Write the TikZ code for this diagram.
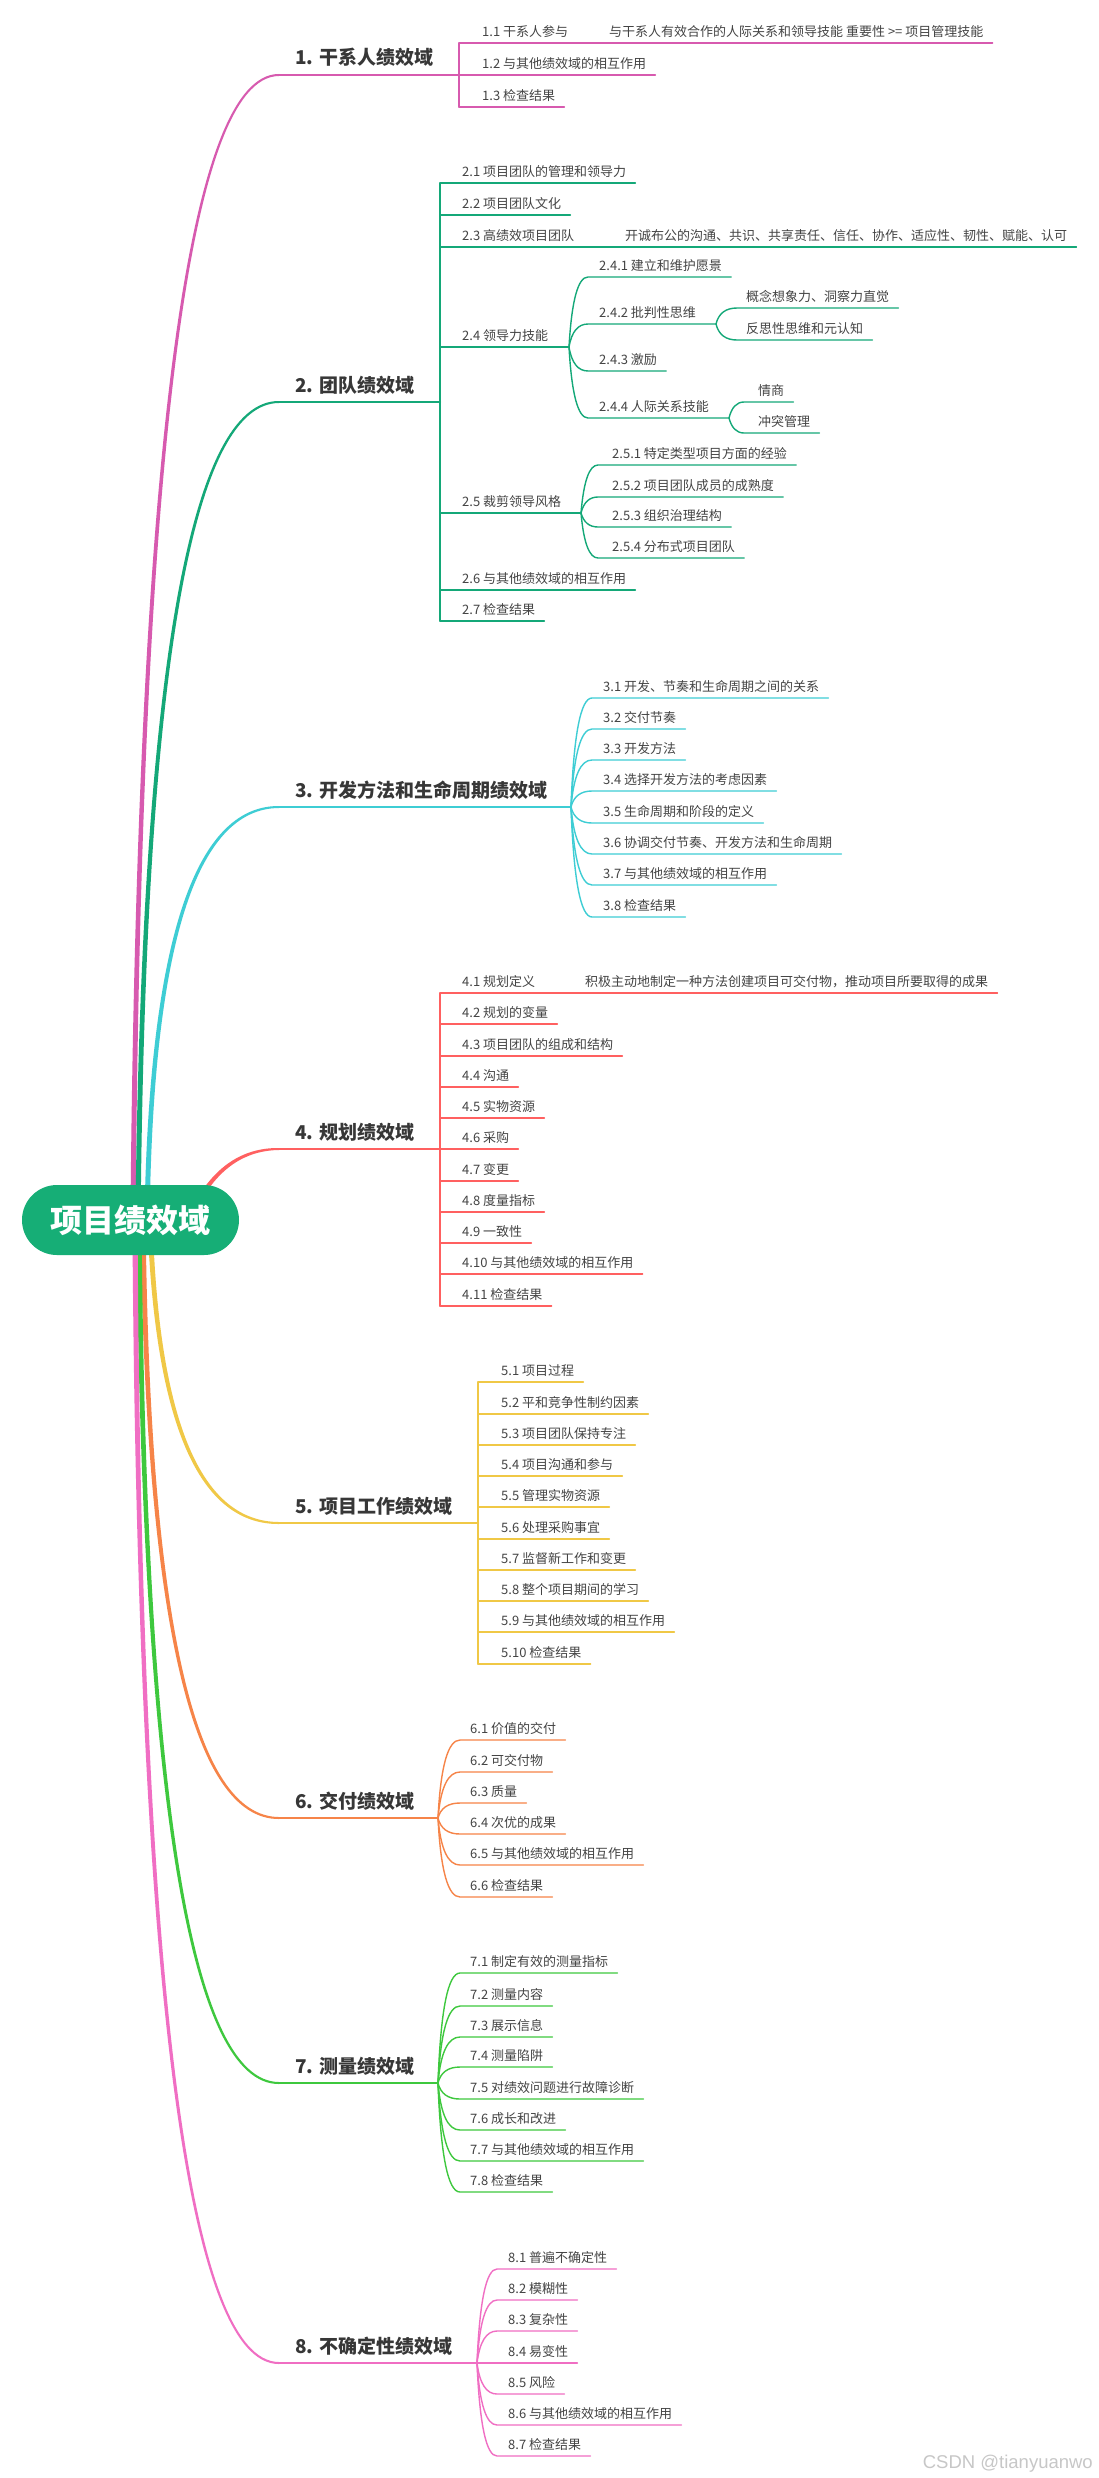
\documentclass[tikz,border=0pt]{standalone}
\usepackage{fontspec}
\setmainfont{Noto Sans CJK SC}
\newfontfamily\wmfont{Liberation Sans}
\usetikzlibrary{calc}
\definecolor{cA}{RGB}{215,90,175}
\definecolor{cB}{RGB}{20,168,120}
\definecolor{cC}{RGB}{62,205,212}
\definecolor{cD}{RGB}{255,96,96}
\definecolor{cE}{RGB}{240,200,70}
\definecolor{cF}{RGB}{246,132,72}
\definecolor{cG}{RGB}{62,200,62}
\definecolor{cH}{RGB}{240,110,195}
\definecolor{rootc}{RGB}{22,174,118}
\definecolor{txt}{RGB}{68,68,68}
\definecolor{ttxt}{RGB}{55,55,55}
\tikzset{
 leaf/.style={font=\fontsize{13}{15}\selectfont,text=txt,inner sep=0pt,anchor=base west},
 ttl/.style={font=\fontsize{19}{22}\selectfont\bfseries,text=ttxt,inner sep=0pt,anchor=base west},
 sl/.style={line width=1.4pt,line cap=round},
 tl/.style={line width=2pt,line cap=round},
 trunkline/.style={line width=1.8pt,line cap=round},
 rootbox/.style={fill=rootc,rounded corners=35pt,minimum width=217pt,minimum height=70pt,inner sep=0pt,text=white,font=\fontsize{32}{36}\selectfont\bfseries},
 wm/.style={font=\wmfont\fontsize{18.5}{20}\selectfont,text=black!22,inner sep=0pt,anchor=base east},
}
% tapered main branch: color, start, control, end, sign (-1 up / 1 down)
\newcommand\taper[5]{%
 \path (#2) ++(-2.6,0) coordinate (tpA)
       (#2) ++(2.6,0) coordinate (tpB)
       (#3) ++(-1.6,{1.6*(#5)}) coordinate (tpC)
       (#3) ++(1.6,{-1.6*(#5)}) coordinate (tpD)
       (#4) ++(0,{1.0*(#5)}) coordinate (tpE)
       (#4) ++(0,{-1.0*(#5)}) coordinate (tpF);
 \fill[#1] (tpA) .. controls ($(tpA)!2/3!(tpC)$) and ($(tpE)!2/3!(tpC)$) .. (tpE)
   -- (tpF) .. controls ($(tpF)!2/3!(tpD)$) and ($(tpB)!2/3!(tpD)$) .. (tpB) -- cycle;
}
% main title: name, color, text, line y, root start, ctrl x, sign, branch x
\newcommand\mtitle[8]{%
 \node[ttl] (#1) at (295,#4-10) {#3};
 \coordinate (#1-e) at (279,#4);
 \coordinate (#1-k) at (#6,#4);
 \coordinate (#1-p) at (#8,#4);
 \taper{#2}{#5}{#1-k}{#1-e}{#7}
 \draw[tl,#2] (#1-e) -- (#1-p);
}
% elbow child: name, color, trunk x, text x, y, text
\newcommand\ech[6]{%
 \node[leaf] (#1) at (#4,#5-6.5) {#6};
 \coordinate (#1-s) at (#3,#5);
 \draw[sl,#2] (#1-s) -- ($(#1-s -| #1.east)+(9,0)$);
}
% elbow parent: name, color, trunk x, text x, y, text, branch x
\newcommand\epar[7]{%
 \node[leaf] (#1) at (#4,#5-6.5) {#6};
 \coordinate (#1-s) at (#3,#5);
 \coordinate (#1-p) at (#7,#5);
 \draw[sl,#2] (#1-s) -- (#1-p);
}
% curved child: name, color, parent point, start x, text x, y, text
\newcommand\cch[7]{%
 \node[leaf] (#1) at (#5,#6-6.5) {#7};
 \coordinate (#1-s) at (#4,#6);
 \coordinate (#1-c) at ($(#3 |- #1-s)+(4,0)$);
 \draw[sl,#2] (#3) .. controls ($(#3)!2/3!(#1-c)$) and ($(#1-s)!2/3!(#1-c)$) .. (#1-s) -- ($(#1-s -| #1.east)+(9,0)$);
}
% curved parent: name, color, parent point, start x, text x, y, text, branch x
\newcommand\cpar[8]{%
 \node[leaf] (#1) at (#5,#6-6.5) {#7};
 \coordinate (#1-s) at (#4,#6);
 \coordinate (#1-p) at (#8,#6);
 \coordinate (#1-c) at ($(#3 |- #1-s)+(4,0)$);
 \draw[sl,#2] (#3) .. controls ($(#3)!2/3!(#1-c)$) and ($(#1-s)!2/3!(#1-c)$) .. (#1-s) -- (#1-p);
}
\begin{document}
\begin{tikzpicture}[x=1pt,y=-1pt]
\useasboundingbox (0,0) rectangle (1098,2478);
\fill[white] (0,0) rectangle (1098,2478);
\coordinate (r1) at (133,1220);
\coordinate (r2) at (138,1220);
\coordinate (r3) at (147,1220);
\coordinate (r4) at (196,1205);
\coordinate (r5) at (150,1220);
\coordinate (r6) at (143,1220);
\coordinate (r7) at (139,1220);
\coordinate (r8) at (135,1220);

% ---- 1
\mtitle{t1}{cA}{1. 干系人绩效域}{75}{r1}{142}{-1}{459}
\epar{n11}{cA}{459}{482}{43}{1.1 干系人参与}{589}
\cch{n11c}{cA}{n11-p}{599}{609}{43}{与干系人有效合作的人际关系和领导技能 重要性 >= 项目管理技能}
\ech{n12}{cA}{459}{482}{75}{1.2 与其他绩效域的相互作用}
\ech{n13}{cA}{459}{482}{107}{1.3 检查结果}
\draw[trunkline,cA] (n11-s) -- (n13-s);

% ---- 2
\mtitle{t2}{cB}{2. 团队绩效域}{402}{r2}{146}{-1}{440}
\ech{n21}{cB}{440}{462}{183}{2.1 项目团队的管理和领导力}
\ech{n22}{cB}{440}{462}{215}{2.2 项目团队文化}
\epar{n23}{cB}{440}{462}{247}{2.3 高绩效项目团队}{596}
\cch{n23c}{cB}{n23-p}{612}{625}{247}{开诚布公的沟通、共识、共享责任、信任、协作、适应性、韧性、赋能、认可}
\epar{n24}{cB}{440}{462}{347}{2.4 领导力技能}{569}
\cch{n241}{cB}{n24-p}{588}{599}{277}{2.4.1 建立和维护愿景}
\cpar{n242}{cB}{n24-p}{588}{599}{324}{2.4.2 批判性思维}{716}
\cch{n2421}{cB}{n242-p}{737}{746}{308}{概念想象力、洞察力直觉}
\cch{n2422}{cB}{n242-p}{737}{746}{340}{反思性思维和元认知}
\cch{n243}{cB}{n24-p}{588}{599}{371}{2.4.3 激励}
\cpar{n244}{cB}{n24-p}{588}{599}{418}{2.4.4 人际关系技能}{729}
\cch{n2441}{cB}{n244-p}{744}{758}{402}{情商}
\cch{n2442}{cB}{n244-p}{744}{758}{433}{冲突管理}
\epar{n25}{cB}{440}{462}{513}{2.5 裁剪领导风格}{581}
\cch{n251}{cB}{n25-p}{598}{612}{465}{2.5.1 特定类型项目方面的经验}
\cch{n252}{cB}{n25-p}{598}{612}{497}{2.5.2 项目团队成员的成熟度}
\cch{n253}{cB}{n25-p}{598}{612}{527}{2.5.3 组织治理结构}
\cch{n254}{cB}{n25-p}{598}{612}{558}{2.5.4 分布式项目团队}
\ech{n26}{cB}{440}{462}{590}{2.6 与其他绩效域的相互作用}
\ech{n27}{cB}{440}{462}{621}{2.7 检查结果}
\draw[trunkline,cB] (n21-s) -- (n27-s);

% ---- 3
\mtitle{t3}{cC}{3. 开发方法和生命周期绩效域}{807}{r3}{153}{-1}{571}
\cch{n31}{cC}{t3-p}{592}{603}{698}{3.1 开发、节奏和生命周期之间的关系}
\cch{n32}{cC}{t3-p}{592}{603}{729}{3.2 交付节奏}
\cch{n33}{cC}{t3-p}{592}{603}{760}{3.3 开发方法}
\cch{n34}{cC}{t3-p}{592}{603}{791}{3.4 选择开发方法的考虑因素}
\cch{n35}{cC}{t3-p}{592}{603}{823}{3.5 生命周期和阶段的定义}
\cch{n36}{cC}{t3-p}{592}{603}{854}{3.6 协调交付节奏、开发方法和生命周期}
\cch{n37}{cC}{t3-p}{592}{603}{885}{3.7 与其他绩效域的相互作用}
\cch{n38}{cC}{t3-p}{592}{603}{917}{3.8 检查结果}

% ---- 4
\mtitle{t4}{cD}{4. 规划绩效域}{1149}{r4}{226}{-1}{440}
\epar{n41}{cD}{440}{462}{993}{4.1 规划定义}{557}
\cch{n41c}{cD}{n41-p}{572}{585}{993}{积极主动地制定一种方法创建项目可交付物，推动项目所要取得的成果}
\ech{n42}{cD}{440}{462}{1024}{4.2 规划的变量}
\ech{n43}{cD}{440}{462}{1056}{4.3 项目团队的组成和结构}
\ech{n44}{cD}{440}{462}{1087}{4.4 沟通}
\ech{n45}{cD}{440}{462}{1118}{4.5 实物资源}
\ech{n46}{cD}{440}{462}{1149}{4.6 采购}
\ech{n47}{cD}{440}{462}{1181}{4.7 变更}
\ech{n48}{cD}{440}{462}{1212}{4.8 度量指标}
\ech{n49}{cD}{440}{462}{1243}{4.9 一致性}
\ech{n410}{cD}{440}{462}{1274}{4.10 与其他绩效域的相互作用}
\ech{n411}{cD}{440}{462}{1306}{4.11 检查结果}
\draw[trunkline,cD] (n41-s) -- (n411-s);

% ---- 5
\mtitle{t5}{cE}{5. 项目工作绩效域}{1523}{r5}{160}{1}{478}
\ech{n51}{cE}{478}{501}{1382}{5.1 项目过程}
\ech{n52}{cE}{478}{501}{1414}{5.2 平和竞争性制约因素}
\ech{n53}{cE}{478}{501}{1445}{5.3 项目团队保持专注}
\ech{n54}{cE}{478}{501}{1476}{5.4 项目沟通和参与}
\ech{n55}{cE}{478}{501}{1507}{5.5 管理实物资源}
\ech{n56}{cE}{478}{501}{1539}{5.6 处理采购事宜}
\ech{n57}{cE}{478}{501}{1570}{5.7 监督新工作和变更}
\ech{n58}{cE}{478}{501}{1601}{5.8 整个项目期间的学习}
\ech{n59}{cE}{478}{501}{1632}{5.9 与其他绩效域的相互作用}
\ech{n510}{cE}{478}{501}{1664}{5.10 检查结果}
\draw[trunkline,cE] (n51-s) -- (n510-s);

% ---- 6
\mtitle{t6}{cF}{6. 交付绩效域}{1818}{r6}{150}{1}{438}
\cch{n61}{cF}{t6-p}{460}{470}{1740}{6.1 价值的交付}
\cch{n62}{cF}{t6-p}{460}{470}{1772}{6.2 可交付物}
\cch{n63}{cF}{t6-p}{460}{470}{1803}{6.3 质量}
\cch{n64}{cF}{t6-p}{460}{470}{1834}{6.4 次优的成果}
\cch{n65}{cF}{t6-p}{460}{470}{1865}{6.5 与其他绩效域的相互作用}
\cch{n66}{cF}{t6-p}{460}{470}{1897}{6.6 检查结果}

% ---- 7
\mtitle{t7}{cG}{7. 测量绩效域}{2083}{r7}{146}{1}{438}
\cch{n71}{cG}{t7-p}{460}{470}{1973}{7.1 制定有效的测量指标}
\cch{n72}{cG}{t7-p}{460}{470}{2006}{7.2 测量内容}
\cch{n73}{cG}{t7-p}{460}{470}{2037}{7.3 展示信息}
\cch{n74}{cG}{t7-p}{460}{470}{2067}{7.4 测量陷阱}
\cch{n75}{cG}{t7-p}{460}{470}{2099}{7.5 对绩效问题进行故障诊断}
\cch{n76}{cG}{t7-p}{460}{470}{2130}{7.6 成长和改进}
\cch{n77}{cG}{t7-p}{460}{470}{2161}{7.7 与其他绩效域的相互作用}
\cch{n78}{cG}{t7-p}{460}{470}{2192}{7.8 检查结果}

% ---- 8
\mtitle{t8}{cH}{8. 不确定性绩效域}{2363}{r8}{141}{1}{477}
\cch{n81}{cH}{t8-p}{497}{508}{2269}{8.1 普遍不确定性}
\cch{n82}{cH}{t8-p}{497}{508}{2300}{8.2 模糊性}
\cch{n83}{cH}{t8-p}{497}{508}{2331}{8.3 复杂性}
\cch{n84}{cH}{t8-p}{497}{508}{2363}{8.4 易变性}
\cch{n85}{cH}{t8-p}{497}{508}{2394}{8.5 风险}
\cch{n86}{cH}{t8-p}{497}{508}{2425}{8.6 与其他绩效域的相互作用}
\cch{n87}{cH}{t8-p}{497}{508}{2456}{8.7 检查结果}

% ---- root and watermark
\node[rootbox] (root) at (130.5,1220) {项目绩效域};
\node[wm] (wm) at (1093,2468) {CSDN @tianyuanwo};
\end{tikzpicture}
\end{document}
